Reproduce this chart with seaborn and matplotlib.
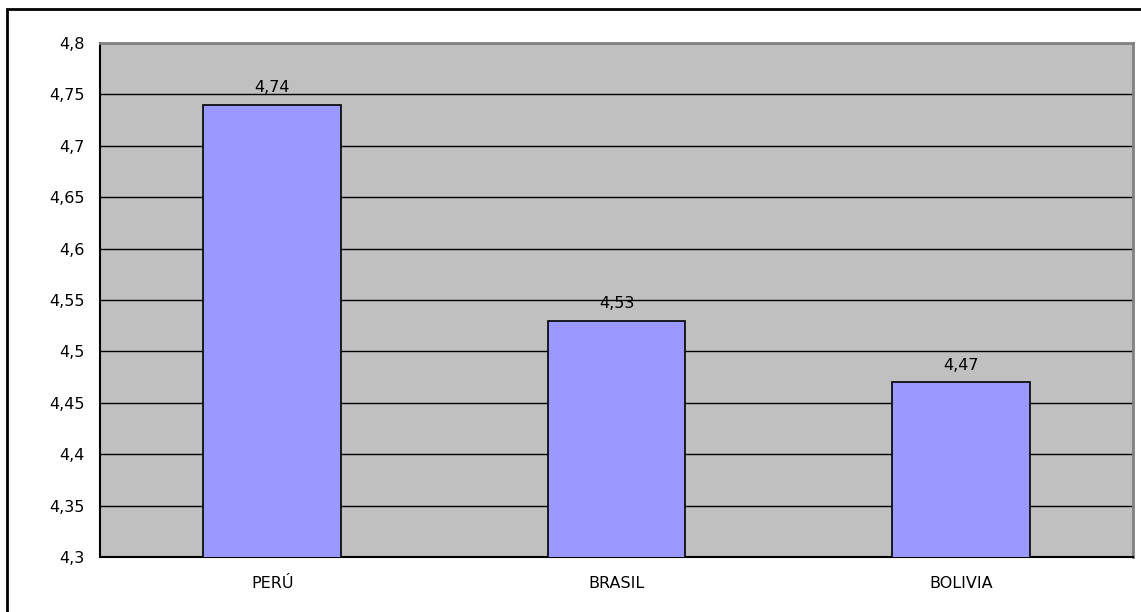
import numpy as np
import pandas as pd
import matplotlib
matplotlib.use("Agg")
import matplotlib.pyplot as plt
import seaborn as sns
from matplotlib.patches import Rectangle

# datos
paises = ["PERÚ", "BRASIL", "BOLIVIA"]
valores = [4.74, 4.53, 4.47]
y_ticks = [4.3, 4.35, 4.4, 4.45, 4.5, 4.55, 4.6, 4.65, 4.7, 4.75, 4.8]

df = pd.DataFrame({"pais": paises, "valor": valores})

sns.set_style("white")
plt.rcParams["font.family"] = ["DejaVu Sans"]
plt.rcParams["text.color"] = "black"
plt.rcParams["xtick.color"] = "black"
plt.rcParams["ytick.color"] = "black"

fig = plt.figure(figsize=(11.41, 6.12), dpi=100)
ax = fig.add_axes([100 / 1141, 1 - 557 / 612, 1033 / 1141, 514 / 612])
ax.set_facecolor("#C0C0C0")

sns.barplot(data=df, x="pais", y="valor", color="#9999FF", width=0.4,
            edgecolor="black", linewidth=1.2, saturation=1, ax=ax, zorder=3)

ax.set_ylim(4.3, 4.8)
ax.set_yticks(y_ticks)
ax.set_yticklabels([f"{v:g}".replace(".", ",") for v in y_ticks], fontsize=11.5)
ax.set_xlim(-0.5, 2.5)
ax.set_xticks([-0.5, 0.5, 1.5, 2.5], minor=True)
ax.tick_params(axis="x", which="major", length=0, labelsize=11.5, pad=14)
ax.tick_params(axis="x", which="minor", length=5, width=1.2, color="black", direction="out")
ax.tick_params(axis="y", length=5, width=1.2, color="black", direction="out", pad=6)
ax.set_xlabel("")
ax.set_ylabel("")

ax.yaxis.grid(True, color="black", linewidth=1.0, zorder=1)
ax.set_axisbelow(True)

for s in ["left", "bottom"]:
    ax.spines[s].set_color("black")
    ax.spines[s].set_linewidth(1.5)
for s in ["top", "right"]:
    ax.spines[s].set_color("#808080")
    ax.spines[s].set_linewidth(2)

for p, v in zip(ax.patches, valores):
    ax.text(p.get_x() + p.get_width() / 2, v + 0.009, f"{v:.2f}".replace(".", ","),
            ha="center", va="bottom", fontsize=11.5, color="black", zorder=4)

# marco exterior
fig.patches.append(Rectangle((7 / 1141, -0.05), 1.1, 1 - 9 / 612 + 0.05,
                             transform=fig.transFigure, fill=False,
                             edgecolor="black", linewidth=2))

plt.savefig("out.png", dpi=100)
plt.close()
